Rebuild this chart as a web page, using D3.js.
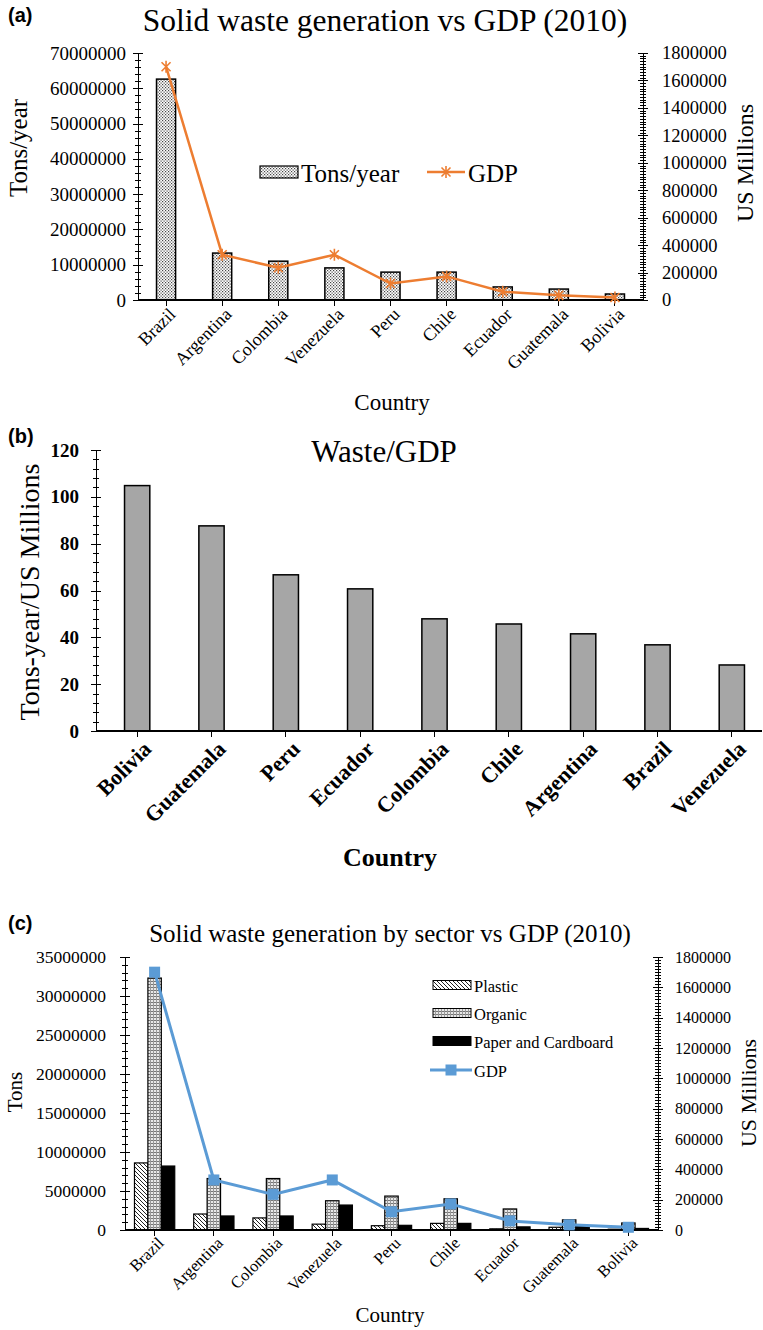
<!DOCTYPE html>
<meta charset="utf-8">
<style>
body { margin: 0; background: #fff; }
svg text { font-family: "Liberation Serif", "Times New Roman", serif; fill: #000; }
svg text.panel-tag { font-family: "Liberation Sans", Arial, sans-serif; font-weight: bold; }
.axis path, .axis line { stroke: #000; shape-rendering: crispEdges; }
</style>
<body>
<script src="https://d3js.org/d3.v7.min.js"></script>
<script>

var countries = ["Brazil", "Argentina", "Colombia", "Venezuela", "Peru", "Chile", "Ecuador", "Guatemala", "Bolivia"];
var tonsYear = [62600000, 13300000, 11000000, 9100000, 7900000, 7900000, 3700000, 3100000, 1700000];
var gdp = [1700000, 330000, 235000, 330000, 120000, 172000, 60000, 34000, 18000];

var ratioCountries = ["Bolivia", "Guatemala", "Peru", "Ecuador", "Colombia", "Chile", "Argentina", "Brazil", "Venezuela"];
var wasteGdp = [104.8, 87.6, 66.7, 60.7, 47.9, 45.7, 41.5, 36.8, 28.2];

var sectors = ["Plastic", "Organic", "Paper and Cardboard"];
var plastic = [8600000, 2050000, 1550000, 750000, 550000, 850000, 150000, 350000, 100000];
var organic = [32300000, 6600000, 6600000, 3750000, 4350000, 4000000, 2700000, 1300000, 900000];
var paper = [8200000, 1800000, 1800000, 3200000, 600000, 850000, 400000, 550000, 200000];

var serif = "'Liberation Serif', 'Times New Roman', serif";

var svg = d3.select("body").append("svg")
    .attr("width", 763)
    .attr("height", 1330);

// fill patterns
var defs = svg.append("defs");
var dots = defs.append("pattern").attr("id", "dots")
    .attr("patternUnits", "userSpaceOnUse").attr("width", 3).attr("height", 3);
dots.append("rect").attr("width", 3).attr("height", 3).attr("fill", "#fff");
dots.append("rect").attr("width", 1.2).attr("height", 1.2).attr("fill", "#444");
dots.append("rect").attr("x", 1.5).attr("y", 1.5).attr("width", 1.2).attr("height", 1.2).attr("fill", "#444");

var grid = defs.append("pattern").attr("id", "grid")
    .attr("patternUnits", "userSpaceOnUse").attr("width", 3).attr("height", 3);
grid.append("rect").attr("width", 3).attr("height", 3).attr("fill", "#e8e8e8");
grid.append("rect").attr("width", 3).attr("height", 1).attr("fill", "#777");
grid.append("rect").attr("width", 1).attr("height", 3).attr("fill", "#999");

var hatch = defs.append("pattern").attr("id", "hatch")
    .attr("patternUnits", "userSpaceOnUse").attr("width", 4).attr("height", 4);
hatch.append("rect").attr("width", 4).attr("height", 4).attr("fill", "#fff");
hatch.append("path").attr("d", "M-1,-1L5,5M3,-1L5,1M-1,3L1,5")
    .attr("stroke", "#222").attr("stroke-width", 1);

var patternOf = { "Plastic": "url(#hatch)", "Organic": "url(#grid)", "Paper and Cardboard": "#000" };

// vertical axis with crossing major ticks and minor ticks
function vAxis(x, scale, side, step, minorDiv, size, bold, pad) {
  var d = scale.domain();
  var major = d3.range(d[0], d[1] + step / 2, step);
  var minor = d3.range(d[0], d[1] + step / (2 * minorDiv), step / minorDiv);
  var mk = side == "left" ? d3.axisLeft : d3.axisRight;
  var g = svg.append("g").attr("class", "axis").attr("transform", "translate(" + x + ",0)");
  g.append("g").call(mk(scale).tickValues(minor).tickSize(3).tickFormat(""))
    .call(function(s) { s.select(".domain").remove(); })
    .selectAll("line").attr("x1", -3).attr("x2", 3);
  g.append("g").call(mk(scale).tickValues(major).tickSize(5).tickSizeOuter(0).tickPadding(pad).tickFormat(d3.format("d")))
    .call(function(s) { s.selectAll("line").attr("x1", -5).attr("x2", 5); })
    .selectAll("text")
      .style("font-family", serif)
      .style("font-size", size + "px")
      .style("font-weight", bold ? "bold" : "normal");
}

function xAxis(y, scale, x0, x1, size, bold, dx, dy) {
  var g = svg.append("g").attr("class", "axis").attr("transform", "translate(0," + y + ")");
  g.call(d3.axisBottom(scale).tickSize(6).tickSizeOuter(0))
    .call(function(s) { s.select(".domain").remove(); });
  g.append("line").attr("x1", x0).attr("x2", x1).attr("stroke", "#000").attr("stroke-width", 1.5);
  g.selectAll(".tick text")
    .attr("x", 0).attr("y", 0).attr("dy", "0.35em")
    .attr("transform", "translate(" + dx + "," + dy + ") rotate(-45)")
    .style("text-anchor", "end")
    .style("font-family", serif)
    .style("font-size", size + "px")
    .style("font-weight", bold ? "bold" : "normal");
}

function label(x, y, text, size, opts) {
  opts = opts || {};
  var t = svg.append("text")
    .attr("transform", "translate(" + x + "," + y + ")" + (opts.rot ? " rotate(" + opts.rot + ")" : ""))
    .attr("text-anchor", opts.anchor || "middle")
    .attr("dominant-baseline", opts.base || "auto")
    .style("font-family", opts.cls ? "'Liberation Sans', Arial, sans-serif" : serif)
    .style("font-size", size + "px")
    .style("font-weight", opts.bold ? "bold" : "normal")
    .text(text);
  if (opts.cls) t.attr("class", opts.cls);
  return t;
}

var star = "M-4.5,-4.5L4.5,4.5M-4.5,4.5L4.5,-4.5M0,-6L0,6";

// ---------- (a) ----------
var a = {left: 138, right: 643, top: 53, bottom: 300};
var xa = d3.scaleBand().domain(countries).range([a.left, a.right]);
var ya = d3.scaleLinear().domain([0, 70000000]).range([a.bottom, a.top]);
var ya2 = d3.scaleLinear().domain([0, 1800000]).range([a.bottom, a.top]);

svg.selectAll(".bar-a").data(countries).enter().append("rect")
    .attr("class", "bar-a")
    .attr("x", function(d) { return xa(d) + xa.bandwidth() * 0.33; })
    .attr("width", xa.bandwidth() * 0.34)
    .attr("y", function(d, i) { return ya(tonsYear[i]); })
    .attr("height", function(d, i) { return a.bottom - ya(tonsYear[i]); })
    .attr("fill", "url(#dots)").attr("stroke", "#000").attr("stroke-width", 1.5);

vAxis(a.left, ya, "left", 10000000, 5, 19, false, 7);
vAxis(a.right, ya2, "right", 200000, 10, 18.5, false, 14);
xAxis(a.bottom, xa, a.left, a.right, 18, false, 6, 11);

var lineA = d3.line()
    .x(function(d, i) { return xa(countries[i]) + xa.bandwidth() / 2; })
    .y(function(d) { return ya2(d); });
svg.append("path").datum(gdp).attr("d", lineA)
    .attr("fill", "none").attr("stroke", "#ed7d31").attr("stroke-width", 2.5);
svg.selectAll(".star-a").data(gdp).enter().append("path")
    .attr("class", "star-a")
    .attr("transform", function(d, i) { return "translate(" + (xa(countries[i]) + xa.bandwidth() / 2) + "," + ya2(d) + ")"; })
    .attr("d", star).attr("stroke", "#ed7d31").attr("stroke-width", 1.6).attr("fill", "none");

// legend (a)
svg.append("rect").attr("x", 260).attr("y", 166).attr("width", 38).attr("height", 12)
    .attr("fill", "url(#dots)").attr("stroke", "#000").attr("stroke-width", 1.2);
label(301, 173, "Tons/year", 25, {anchor: "start", base: "central"});
svg.append("line").attr("x1", 427).attr("x2", 465).attr("y1", 172).attr("y2", 172)
    .attr("stroke", "#ed7d31").attr("stroke-width", 2.5);
svg.append("path").attr("transform", "translate(446,172)").attr("d", star)
    .attr("stroke", "#ed7d31").attr("stroke-width", 1.6);
label(468, 173, "GDP", 25, {anchor: "start", base: "central"});

label(8, 22, "(a)", 20, {anchor: "start", bold: true, cls: "panel-tag"});
label(385, 31, "Solid waste generation vs GDP (2010)", 31.5);
label(27, 148, "Tons/year", 25, {rot: -90});
label(753, 163, "US Millions", 24, {rot: -90});
label(392, 410, "Country", 23);

// ---------- (b) ----------
var b = {left: 96, right: 762, top: 450, bottom: 731};
var xb = d3.scaleBand().domain(ratioCountries).range([100, 769]);
var yb = d3.scaleLinear().domain([0, 120]).range([b.bottom, b.top]);

svg.selectAll(".bar-b").data(ratioCountries).enter().append("rect")
    .attr("class", "bar-b")
    .attr("x", function(d) { return xb(d) + xb.bandwidth() * 0.33; })
    .attr("width", xb.bandwidth() * 0.34)
    .attr("y", function(d, i) { return yb(wasteGdp[i]); })
    .attr("height", function(d, i) { return b.bottom - yb(wasteGdp[i]); })
    .attr("fill", "#a6a6a6").attr("stroke", "#000").attr("stroke-width", 1.5);

vAxis(b.left, yb, "left", 20, 5, 19, true, 12);
xAxis(b.bottom, xb, b.left, b.right, 22, true, 10, 14);

label(8, 443, "(b)", 20, {anchor: "start", bold: true, cls: "panel-tag"});
label(384, 462, "Waste/GDP", 31);
label(39, 592, "Tons-year/US  Millions", 28, {rot: -90});
label(390, 866, "Country", 26, {bold: true});

// ---------- (c) ----------
var c = {left: 125, right: 658, top: 957, bottom: 1230};
var xc = d3.scaleBand().domain(countries).range([c.left, c.right]);
var xs = d3.scaleBand().domain(sectors).range([0, xc.bandwidth() * 0.68]);
var yc = d3.scaleLinear().domain([0, 35000000]).range([c.bottom, c.top]);
var yc2 = d3.scaleLinear().domain([0, 1800000]).range([c.bottom, c.top]);

var sectorVals = {"Plastic": plastic, "Organic": organic, "Paper and Cardboard": paper};
sectors.forEach(function(s) {
  svg.selectAll(".bar-c-" + s.charAt(0)).data(countries).enter().append("rect")
      .attr("x", function(d) { return xc(d) + xc.bandwidth() * 0.16 + xs(s); })
      .attr("width", xs.bandwidth())
      .attr("y", function(d, i) { return yc(sectorVals[s][i]); })
      .attr("height", function(d, i) { return c.bottom - yc(sectorVals[s][i]); })
      .attr("fill", patternOf[s]).attr("stroke", "#000").attr("stroke-width", 1.2);
});

vAxis(c.left, yc, "left", 5000000, 5, 17.5, false, 14);
vAxis(c.right, yc2, "right", 200000, 10, 16, false, 12);
xAxis(c.bottom, xc, c.left, c.right, 16.5, false, 6, 10);

var lineC = d3.line()
    .x(function(d, i) { return xc(countries[i]) + xc.bandwidth() / 2; })
    .y(function(d) { return yc2(d); });
svg.append("path").datum(gdp).attr("d", lineC)
    .attr("fill", "none").attr("stroke", "#5b9bd5").attr("stroke-width", 3);
svg.selectAll(".sq-c").data(gdp).enter().append("rect")
    .attr("class", "sq-c")
    .attr("x", function(d, i) { return xc(countries[i]) + xc.bandwidth() / 2 - 5.5; })
    .attr("y", function(d) { return yc2(d) - 5.5; })
    .attr("width", 11).attr("height", 11).attr("fill", "#5b9bd5");

// legend (c)
sectors.forEach(function(s, i) {
  var yy = 985 + i * 28;
  svg.append("rect").attr("x", 433).attr("y", yy - 4.5).attr("width", 38).attr("height", 9)
      .attr("fill", patternOf[s]).attr("stroke", "#000").attr("stroke-width", 1);
  label(474, yy + 1, s, 16.5, {anchor: "start", base: "central"});
});
svg.append("line").attr("x1", 430).attr("x2", 472).attr("y1", 1070).attr("y2", 1070)
    .attr("stroke", "#5b9bd5").attr("stroke-width", 3);
svg.append("rect").attr("x", 445.5).attr("y", 1064.5).attr("width", 11).attr("height", 11).attr("fill", "#5b9bd5");
label(474, 1071, "GDP", 16.5, {anchor: "start", base: "central"});

label(8, 930, "(c)", 20, {anchor: "start", bold: true, cls: "panel-tag"});
label(390, 942, "Solid waste generation by sector vs GDP (2010)", 25);
label(22, 1092, "Tons", 21, {rot: -90});
label(756, 1093, "US Millions", 22, {rot: -90});
label(390, 1322, "Country", 21);

</script>
